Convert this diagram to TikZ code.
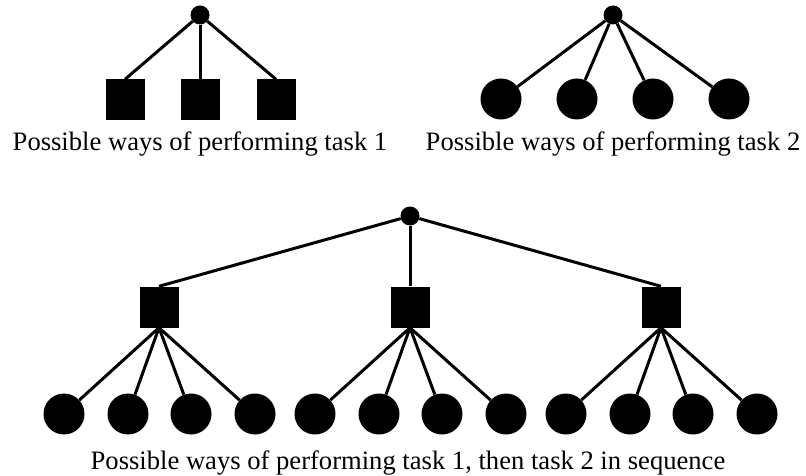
\documentclass[tikz,border=0pt]{standalone}
\usepackage{fontspec}
\setmainfont{Liberation Serif}
\begin{document}
\begin{tikzpicture}[x=1pt,y=-1pt,
  rootdot/.style={circle,fill=black,inner sep=0pt,minimum size=19pt},
  sqnode/.style={rectangle,fill=black,inner sep=0pt,minimum width=39pt,minimum height=41pt},
  cirnode/.style={circle,fill=black,inner sep=0pt,minimum size=41pt},
  edge/.style={line width=3pt,black},
  lbl/.style={anchor=base,inner sep=0pt,font=\fontsize{26.6}{30}\selectfont}]
\useasboundingbox (0,0) rectangle (806,476);
% top-left tree
\node[rootdot] (ra) at (200,15) {};
\node[sqnode] (sa1) at (125,100) {};
\node[sqnode] (sa2) at (200,100) {};
\node[sqnode] (sa3) at (276,100) {};
\foreach \i in {1,2,3} \draw[edge] (ra) -- (sa\i.north);
\node[lbl] (la) at (200,151) {Possible ways of performing task 1};
% top-right tree
\node[rootdot] (rb) at (613,15) {};
\foreach \i/\x in {1/501,2/577,3/653,4/729} {
  \node[cirnode] (cb\i) at (\x,99) {};
  \draw[edge] (rb) -- (cb\i);
}
\node[lbl] (lb) at (613,151) {Possible ways of performing task 2};
% bottom tree
\node[rootdot] (rc) at (410,216) {};
\node[sqnode] (sc1) at (159,307) {};
\node[sqnode] (sc2) at (410,307) {};
\node[sqnode] (sc3) at (661,307) {};
\foreach \i in {1,2,3} \draw[edge] (rc) -- (sc\i.north);
\foreach \j/\x in {1/64,2/128,3/191,4/255} {
  \node[cirnode] (ca\j) at (\x,414) {};
  \draw[edge] (sc1.south) -- (ca\j);
}
\foreach \j/\x in {1/315,2/379,3/442,4/506} {
  \node[cirnode] (cm\j) at (\x,414) {};
  \draw[edge] (sc2.south) -- (cm\j);
}
\foreach \j/\x in {1/566,2/630,3/693,4/757} {
  \node[cirnode] (cr\j) at (\x,414) {};
  \draw[edge] (sc3.south) -- (cr\j);
}
\node[lbl] (lc) at (408,469) {Possible ways of performing task 1, then task 2 in sequence};
\end{tikzpicture}
\end{document}
